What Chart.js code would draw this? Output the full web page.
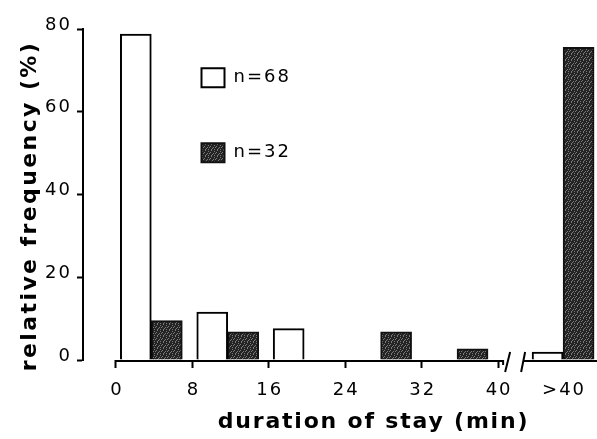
<!DOCTYPE html>
<html><head><meta charset="utf-8">
<script src="https://cdn.jsdelivr.net/npm/chart.js@4/dist/chart.umd.min.js"></script>
<style>html,body{margin:0;padding:0;background:#fff;} #wrap{width:597px;height:439px;}</style>
</head><body>
<div id="wrap"><canvas id="c" width="597" height="439"></canvas></div>
<script>
// ---- data ----
const categories = ['0-8', '8-16', '16-24', '24-32', '32-40', '>40'];
const binStart = [0, 8, 16, 24, 32, 40];
const seriesN68 = [78.8, 11.6, 7.6, 0, 0, 1.9];
const seriesN32 = [9.5, 6.8, 0, 6.8, 2.7, 75.6];
const seriesLabels = ['n=68', 'n=32'];
const xTickValues = [0, 8, 16, 24, 32, 40];
const xTickLabels = ['0', '8', '16', '24', '32', '40', '>40'];
const yTickValues = [0, 20, 40, 60, 80];
const xTitle = 'duration of stay (min)';
const yTitle = 'relative frequency (%)';

// ---- layout helpers ----
const PAIR_OFFSET = 3.7;   // bin start -> boundary between the two bars (minutes)
const BREAK_GAP = 3.1;     // extra room after the axis break (minutes)
function pairCenter(i) {
  return binStart[i] + PAIR_OFFSET + (categories[i].charAt(0) === '>' ? BREAK_GAP : 0);
}

const canvas = document.getElementById('c');
const ctx = canvas.getContext('2d');

function makePattern() {
  const t = document.createElement('canvas'); t.width = 6; t.height = 6;
  const c = t.getContext('2d');
  c.fillStyle = '#242424'; c.fillRect(0, 0, 6, 6);
  c.fillStyle = '#7a7a7a';
  [[1,0],[4,1],[0,2],[3,3],[5,3],[2,4],[1,5],[4,5]].forEach(p => c.fillRect(p[0], p[1], 1, 1));
  return ctx.createPattern(t, 'repeat');
}
const darkFill = makePattern();

const FONT = "'DejaVu Sans', sans-serif";
const TICK_LS = '2px';

function wrapTitle(scale, axis, shift, ls) {
  if (!scale || scale._wrappedTitle) return;
  const orig = scale.drawTitle;
  scale.drawTitle = function () {
    const c = this.ctx;
    const saved = {left: this.left, right: this.right, top: this.top, bottom: this.bottom};
    const prev = c.letterSpacing;
    c.letterSpacing = ls;
    if (axis === 'x') { this.left += shift; this.right += shift; }
    else { this.top += shift - 40; this.bottom += shift + 40; }
    orig.call(this);
    Object.assign(this, saved);
    c.letterSpacing = prev;
  };
  scale._wrappedTitle = true;
}

const stylePlugin = {
  id: 'styling',
  beforeUpdate(chart) { chart.ctx.letterSpacing = TICK_LS; },
  afterLayout(chart) {
    const lg = chart.legend;
    if (lg) {
      const p = lg.options.labels.padding;
      const dx = 201.5 - p - lg.left;
      const dy = 68.3 - p - lg.top;
      lg.left += dx; lg.right += dx; lg.top += dy;
    }
    wrapTitle(chart.scales.x, 'x', 33.5, '1.8px');
    wrapTitle(chart.scales.y, 'y', 11.5, '2.4px');
  },
  beforeDraw(chart) { chart.ctx.letterSpacing = TICK_LS; },
  afterDatasetsDraw(chart) {
    const c = chart.ctx, area = chart.chartArea;
    const xs = chart.scales.x, ys = chart.scales.y;
    const y0 = ys.getPixelForValue(0) + 1;
    const xa = xs.getPixelForValue(xTickValues[0]);
    const xb = xs.getPixelForValue(xTickValues[xTickValues.length - 1]);
    c.save();
    c.strokeStyle = '#000'; c.lineWidth = 2; c.lineCap = 'butt';
    c.beginPath();
    c.moveTo(xa - 1, y0); c.lineTo(xb + 5, y0);
    c.moveTo(xb + 5, y0 - 1); c.lineTo(xb + 5, y0 + 4);
    c.moveTo(xb + 7, y0 + 11); c.lineTo(xb + 12, y0 - 9);
    c.moveTo(xb + 23, y0 + 11); c.lineTo(xb + 27, y0 - 9);
    c.moveTo(xb + 26, y0); c.lineTo(area.right, y0);
    c.stroke();
    c.restore();
  }
};

new Chart(ctx, {
  type: 'bar',
  data: {
    datasets: [
      { label: seriesLabels[0], data: seriesN68.map((v, i) => ({x: pairCenter(i), y: v})),
        backgroundColor: '#ffffff', borderColor: '#000000', borderWidth: 2 },
      { label: seriesLabels[1], data: seriesN32.map((v, i) => ({x: pairCenter(i), y: v})),
        backgroundColor: darkFill, borderColor: '#111111', borderWidth: 2 }
    ]
  },
  options: {
    responsive: false, animation: false, devicePixelRatio: 1,
    layout: { padding: { top: 29, left: 0, right: 0, bottom: 0 } },
    datasets: { bar: { barThickness: 31, grouped: true } },
    plugins: {
      legend: {
        position: 'chartArea', align: 'start',
        labels: { boxWidth: 23, boxHeight: 19, padding: 56, color: '#000',
                  font: { family: FONT, size: 18 } }
      },
      tooltip: { enabled: false }
    },
    scales: {
      x: {
        type: 'linear', min: -3.45, max: 50.35, offset: false, bounds: 'data',
        afterBuildTicks(s) {
          s.ticks = xTickValues.concat([pairCenter(categories.length - 1)]).map(v => ({value: v}));
        },
        afterFit(s) { s.height = 79; s.paddingLeft = 0; s.paddingRight = 0; },
        ticks: { callback: (v, i) => xTickLabels[i], color: '#000', font: { family: FONT, size: 18 },
                 padding: 12, labelOffset: 1, maxRotation: 0, autoSkip: false },
        grid: { offset: false, drawOnChartArea: false, drawTicks: true, tickLength: 8, tickWidth: 2,
                tickColor: c => (c.tick && c.tick.value > xTickValues[xTickValues.length - 1]) ? 'rgba(0,0,0,0)' : '#000' },
        border: { display: false },
        title: { display: true, text: xTitle, color: '#000',
                 font: { family: FONT, size: 22, weight: 'bold' }, padding: { top: 0, bottom: 3.4 } }
      },
      y: {
        min: 0, max: 80,
        afterBuildTicks(s) { s.ticks = yTickValues.map(v => ({value: v})); },
        afterFit(s) { s.width = 83; s.paddingTop = 0; s.paddingBottom = 0; },
        ticks: { color: '#000', font: { family: FONT, size: 18 }, padding: 5, labelOffset: -4 },
        grid: { drawOnChartArea: false, drawTicks: true, tickLength: 6, tickWidth: 2, tickColor: '#000' },
        border: { display: true, color: '#000', width: 2 },
        title: { display: true, text: yTitle, color: '#000',
                 font: { family: FONT, size: 22, weight: 'bold' }, padding: { top: 16.7, bottom: 0 } }
      }
    }
  },
  plugins: [stylePlugin]
});
</script>
</body></html>
